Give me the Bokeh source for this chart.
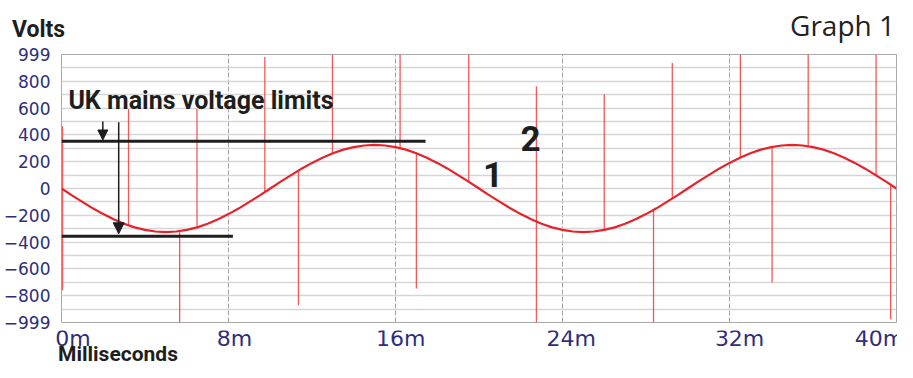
from bokeh.plotting import figure
from bokeh.layouts import column
from bokeh.models import Range1d, FixedTicker, Label, LabelSet, ColumnDataSource, Arrow, NormalHead
from bokeh.core.properties import value
from bokeh.embed import file_html
from bokeh.resources import INLINE

# ---------------- data ----------------
time_ms = [i * 0.5 for i in range(81)]
volts = [0, -51, -100, -148, -191, -230, -263, -290, -309, -321,
         -325, -321, -309, -290, -263, -230, -191, -148, -100, -51,
         0, 51, 100, 148, 191, 230, 263, 290, 309, 321,
         325, 321, 309, 290, 263, 230, 191, 148, 100, 51,
         0, -51, -100, -148, -191, -230, -263, -290, -309, -321,
         -325, -321, -309, -290, -263, -230, -191, -148, -100, -51,
         0, 51, 100, 148, 191, 230, 263, 290, 309, 321,
         325, 321, 309, 290, 263, 230, 191, 148, 100, 51,
         0]

# transient spikes: time, start value, end value
spike_t = [0.05, 3.21, 5.66, 6.49, 9.74, 11.35, 12.98, 16.22, 17.0, 19.51,
           22.75, 26.0, 28.36, 29.26, 32.52, 34.04, 35.77, 39.02, 39.72]
spike_from = [465, -275, -318, -290, -27, 134, 262, 301, 263, 50,
              763, -309, -160, -75, 231, 310, 316, 98, 28]
spike_to = [-759, 594, -1000, 594, 982, -871, 1000, 1000, -746, 1000,
            -1000, 704, -1000, 937, 1000, -701, 1000, 1000, -975]

limit_volts = [353, -356]
limit_end_ms = [17.44, 8.21]

x_tick_ms = [0, 8, 16, 24, 32, 40]
x_tick_labels = ["0m", "8m", "16m", "24m", "32m", "40m"]
y_tick_volts = [999, 800, 600, 400, 200, 0, -200, -400, -600, -800, -999]

# ---------------- layout constants ----------------
W = 897
FRAME_L, FRAME_R = 54, 1
FRAME_W = W - FRAME_L - FRAME_R
PX_PER_MS = FRAME_W / 40.0
V_PER_PX = 2000 / 268.0
TICK_COLOR = "#2f2e7a"
INK = "#1e1e1e"
BOLD = "Roboto"
RAISE = 0.35      # baseline correction, in em
STRIP_DX = 7.5    # horizontal correction for the text strips, px


def strip(height):
    """A text strip whose frame fills the whole canvas, sharing the main x scale."""
    f = figure(width=W, height=height, output_backend="svg", toolbar_location=None,
               title_location=None,
               x_range=Range1d(-FRAME_L / PX_PER_MS, 40 + FRAME_R / PX_PER_MS),
               y_range=Range1d(0, height), x_axis_location=None, y_axis_location=None,
               min_border=0, min_border_left=0, min_border_right=0,
               min_border_top=0, min_border_bottom=0, frame_align=False)
    f.outline_line_color = None
    f.xgrid.visible = False
    f.ygrid.visible = False
    f.background_fill_color = "white"
    f.border_fill_color = "white"
    return f


def lab(fig, text, x, y, size, font=BOLD, style="bold", color=INK, align="left"):
    fig.add_layout(Label(text=text, x=x, y=y,
                         text_font=font, text_font_style=style, text_font_size=f"{size}px",
                         text_color=color, text_align=align, text_baseline="alphabetic"))


def strip_lab(fig, text, left_px, base_from_bottom, size, **kw):
    lab(fig, text, (left_px + STRIP_DX - FRAME_L) / PX_PER_MS,
        base_from_bottom + RAISE * size, size, **kw)


# ---------------- top strip: "Volts" and "Graph 1" ----------------
TOP_H = 46
top = strip(TOP_H)
strip_lab(top, "Volts", 4, TOP_H - 36.7, 23)
strip_lab(top, "Graph 1", W - 10, TOP_H - 34.3, 28, font="Open Sans", style="normal",
          color="#222222", align="right")

# ---------------- main chart ----------------
p = figure(width=W, height=284, x_range=Range1d(0, 40), y_range=Range1d(-1000, 1000),
           output_backend="svg", toolbar_location=None, frame_align=False,
           title_location=None,
           min_border_left=FRAME_L, min_border_right=FRAME_R, min_border_top=8, min_border_bottom=8)
p.background_fill_color = "white"
p.border_fill_color = "white"
p.outline_line_color = "#a8a8a8"
p.outline_line_width = 1

p.xaxis.visible = False
p.xgrid.ticker = FixedTicker(ticks=[8, 16, 24, 32])
p.xgrid.grid_line_color = "#a0a0a0"
p.xgrid.grid_line_width = 1
p.xgrid.grid_line_dash = "5 2"

p.ygrid.ticker = FixedTicker(ticks=list(range(-900, 1000, 100)))
p.ygrid.grid_line_color = "#d6d6d6"
p.ygrid.grid_line_width = 1.3

ax = p.yaxis[0]
ax.ticker = FixedTicker(ticks=y_tick_volts)
ax.axis_line_color = None
ax.major_tick_line_color = None
ax.minor_tick_line_color = None
ax.major_tick_out = 0
ax.major_tick_in = 0
ax.major_label_standoff = 11
ax.major_label_text_font = "DejaVu Sans"
ax.major_label_text_font_size = "17px"
ax.major_label_text_color = TICK_COLOR

# spikes
p.segment(x0=spike_t, y0=spike_from, x1=spike_t, y1=spike_to,
          line_color="#f03c3c", line_width=1.3, line_alpha=0.85)

# sine wave
p.line(time_ms, volts, line_color="#e8222a", line_width=2.2)

# limit lines
p.segment(x0=[0] * len(limit_volts), y0=limit_volts, x1=limit_end_ms, y1=limit_volts,
          line_color=INK, line_width=3)

# arrows
p.add_layout(Arrow(end=NormalHead(size=10, fill_color=INK, line_color=INK),
                   x_start=1.98, y_start=500, x_end=1.98, y_end=362,
                   line_color=INK, line_width=1.5))
p.add_layout(Arrow(end=NormalHead(size=11, fill_color=INK, line_color=INK),
                   x_start=2.74, y_start=495, x_end=2.74, y_end=-338,
                   line_color=INK, line_width=1.5))

lab(p, "UK mains voltage limits", 0.33, 595 + RAISE * 25 * V_PER_PX, 25)
lab(p, "1", 20.19, 10 + RAISE * 35 * V_PER_PX, 35)
lab(p, "2", 21.99, 284 + RAISE * 35 * V_PER_PX, 35)

# ---------------- bottom strip: x tick labels and "Milliseconds" ----------------
BOT_H = 32
bot = strip(BOT_H)
tick_base = BOT_H - 15
src = ColumnDataSource(dict(x=x_tick_ms, y=[tick_base] * len(x_tick_ms), text=x_tick_labels,
                            xo=[18.5, 11.5, 9.5, 11.5, 11.5, -17]))
bot.add_layout(LabelSet(source=src, x="x", y="y", text="text", x_offset="xo",
                        text_font=value("DejaVu Sans"), text_font_size=value("22px"),
                        text_color=TICK_COLOR, text_align="center", text_baseline="alphabetic"))
strip_lab(bot, "Milliseconds", 50, 1, 21)

layout = column(top, p, bot, spacing=0)
open("out.html", "w").write(file_html(layout, INLINE))
